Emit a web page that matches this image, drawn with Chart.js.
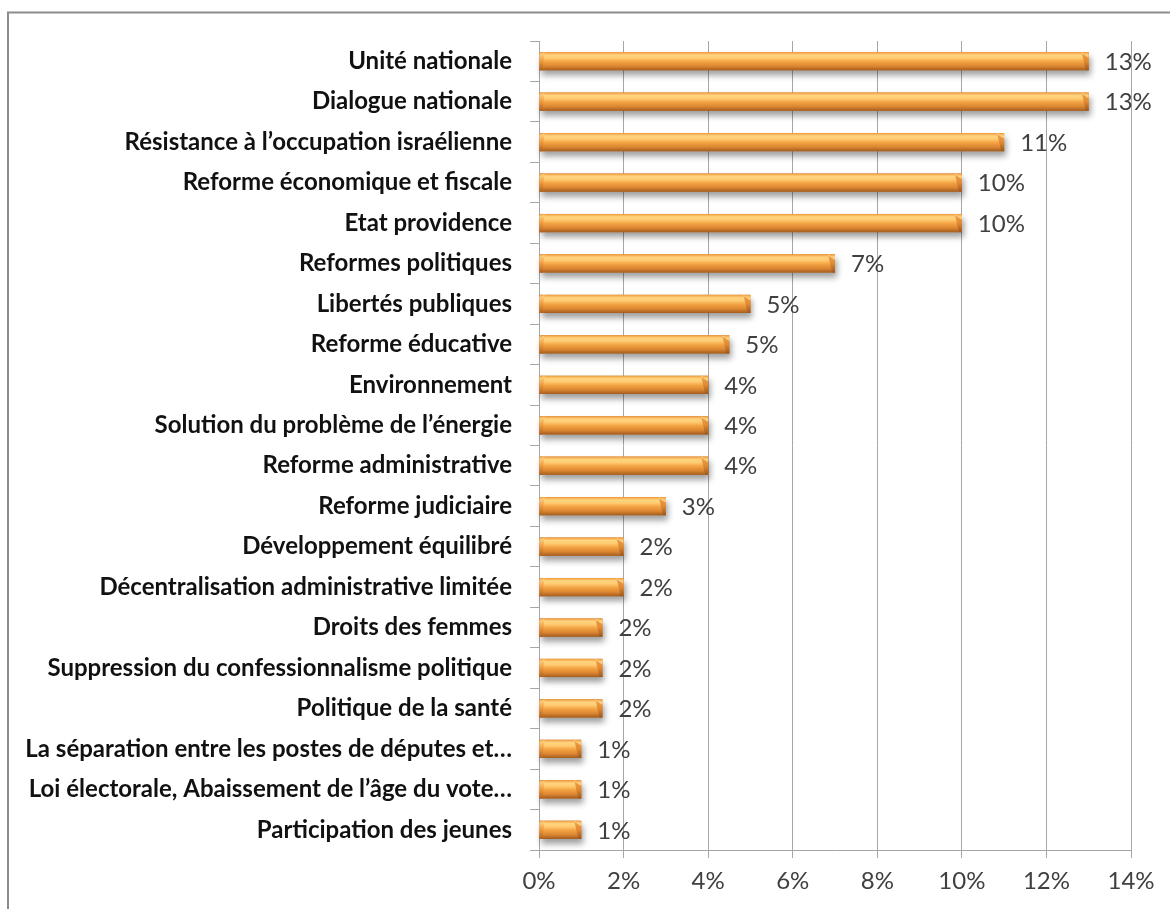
<!DOCTYPE html>
<html lang="fr">
<head>
<meta charset="utf-8">
<title>Priorités</title>
<script src="https://cdn.jsdelivr.net/npm/chart.js@4.4.1/dist/chart.umd.min.js"></script>
<style>
  html, body { margin: 0; padding: 0; background: #ffffff; }
  #wrap { position: relative; width: 1170px; height: 909px; }
</style>
</head>
<body>
<div id="wrap"><canvas id="c"></canvas></div>
<script>
// Categories (top to bottom) and their shares in percent
const categories = [
  "Unité nationale",
  "Dialogue nationale",
  "Résistance à l’occupation israélienne",
  "Reforme économique et fiscale",
  "Etat providence",
  "Reformes politiques",
  "Libertés publiques",
  "Reforme éducative",
  "Environnement",
  "Solution du problème de l’énergie",
  "Reforme administrative",
  "Reforme judiciaire",
  "Développement équilibré",
  "Décentralisation administrative limitée",
  "Droits des femmes",
  "Suppression du confessionnalisme politique",
  "Politique de la santé",
  "La séparation entre les postes de députes et…",
  "Loi électorale, Abaissement de l’âge du vote…",
  "Participation des jeunes"
];
const shares = [13, 13, 11, 10, 10, 7, 5, 4.5, 4, 4, 4, 3, 2, 2, 1.5, 1.5, 1.5, 1, 1, 1];
const xTicks = [0, 2, 4, 6, 8, 10, 12, 14];

const FONT = "Lato, 'Open Sans', sans-serif";
const BAR_PCT = 0.45;

// Cylinder-like vertical gradient for each bar, positioned on the bar's own row
function barFill(ctx) {
  const chart = ctx.chart;
  const y = chart.scales && chart.scales.y;
  if (!y || ctx.dataIndex === undefined) return '#F0A040';
  const yc = y.getPixelForValue(ctx.dataIndex);
  const half = (y.height / categories.length) * BAR_PCT / 2;
  if (!isFinite(yc) || !isFinite(half) || half <= 0) return '#F0A040';
  const g = chart.ctx.createLinearGradient(0, yc - half, 0, yc + half);
  g.addColorStop(0.00, '#F0983A');
  g.addColorStop(0.16, '#FFD47F');
  g.addColorStop(0.32, '#FFCC74');
  g.addColorStop(0.52, '#F4A443');
  g.addColorStop(0.78, '#DA8531');
  g.addColorStop(1.00, '#A45C1E');
  return g;
}

// Soft drop shadow under bars, bevelled ends and value labels
const barDecor = {
  id: 'barDecor',
  beforeDatasetsDraw(chart) {
    const c = chart.ctx;
    const meta = chart.getDatasetMeta(0);
    c.save();
    c.shadowColor = 'rgba(0,0,0,0.38)';
    c.shadowBlur = 6;
    c.shadowOffsetX = 2;
    c.shadowOffsetY = 5;
    c.fillStyle = '#c08040';
    meta.data.forEach(el => {
      const p = el.getProps(['x', 'y', 'base', 'height'], true);
      c.fillRect(p.base, p.y - p.height / 2, p.x - p.base, p.height);
    });
    c.restore();
  },
  afterDatasetsDraw(chart) {
    const c = chart.ctx;
    const meta = chart.getDatasetMeta(0);
    c.save();
    meta.data.forEach((el, i) => {
      const p = el.getProps(['x', 'y', 'base', 'height'], true);
      const top = p.y - p.height / 2, bot = p.y + p.height / 2;
      const bw = 7;
      // right chamfer: a sloped facet across the top corner and a shaded end face
      let g = c.createLinearGradient(0, top, 0, bot);
      g.addColorStop(0, '#F2A24A');
      g.addColorStop(0.5, '#E08A34');
      g.addColorStop(1, '#9C571C');
      c.fillStyle = g;
      c.beginPath();
      c.moveTo(p.x - bw, top);
      c.lineTo(p.x, top + 5);
      c.lineTo(p.x, bot);
      c.lineTo(p.x - 3, bot);
      c.closePath();
      c.fill();
      c.strokeStyle = 'rgba(255,225,160,0.8)';
      c.lineWidth = 1;
      c.beginPath();
      c.moveTo(p.x - bw, top + 0.5);
      c.lineTo(p.x - 0.5, top + 5);
      c.stroke();
      // left chamfer
      g = c.createLinearGradient(0, top, 0, bot);
      g.addColorStop(0, '#FFD98E');
      g.addColorStop(0.5, '#EE9A3E');
      g.addColorStop(1, '#B0621E');
      c.fillStyle = g;
      c.beginPath();
      c.moveTo(p.base, top + 4);
      c.lineTo(p.base + 5, top);
      c.lineTo(p.base + 3, bot);
      c.lineTo(p.base, bot);
      c.closePath();
      c.fill();

      // value label
      c.fillStyle = '#404040';
      c.font = "24px " + FONT;
      c.textAlign = 'left';
      c.textBaseline = 'middle';
      c.fillText(Math.round(shares[i]) + '%', p.x + 16, p.y + 1);
    });
    c.restore();
  },
  // outer frame (top and left edges)
  afterDraw(chart) {
    const c = chart.ctx;
    c.save();
    c.strokeStyle = '#8c8c8c';
    c.lineWidth = 2;
    c.beginPath();
    c.moveTo(8, 909);
    c.lineTo(8, 12.5);
    c.lineTo(1170, 12.5);
    c.stroke();
    c.restore();
  }
};

new Chart(document.getElementById('c'), {
  type: 'bar',
  data: {
    labels: categories,
    datasets: [{
      data: shares,
      backgroundColor: barFill,
      borderWidth: 0,
      barPercentage: BAR_PCT,
      categoryPercentage: 1.0
    }]
  },
  plugins: [barDecor],
  options: {
    indexAxis: 'y',
    responsive: true,
    maintainAspectRatio: false,
    animation: false,
    layout: { padding: { left: 0, right: 39, top: 41, bottom: 0 } },
    plugins: {
      legend: { display: false },
      tooltip: { enabled: false }
    },
    scales: {
      x: {
        min: 0,
        max: 14,
        afterBuildTicks(scale) { scale.ticks = xTicks.map(v => ({ value: v })); },
        afterFit(scale) { scale.height = 909 - 850; },
        grid: { color: '#a6a6a6', lineWidth: 1, tickLength: 8, drawOnChartArea: true },
        border: { color: '#a6a6a6', width: 1 },
        ticks: {
          color: '#404040',
          padding: 9,
          font: { family: FONT, size: 24 },
          callback: v => v + '%'
        }
      },
      y: {
        afterFit(scale) { scale.width = 539; },
        grid: { color: '#a6a6a6', lineWidth: 1, tickLength: 9, drawOnChartArea: false, offset: true },
        border: { color: '#a6a6a6', width: 1 },
        ticks: {
          color: '#111111',
          padding: 18,
          autoSkip: false,
          font: { family: FONT, size: 24, weight: 'bold' }
        }
      }
    }
  }
});
</script>
</body>
</html>
